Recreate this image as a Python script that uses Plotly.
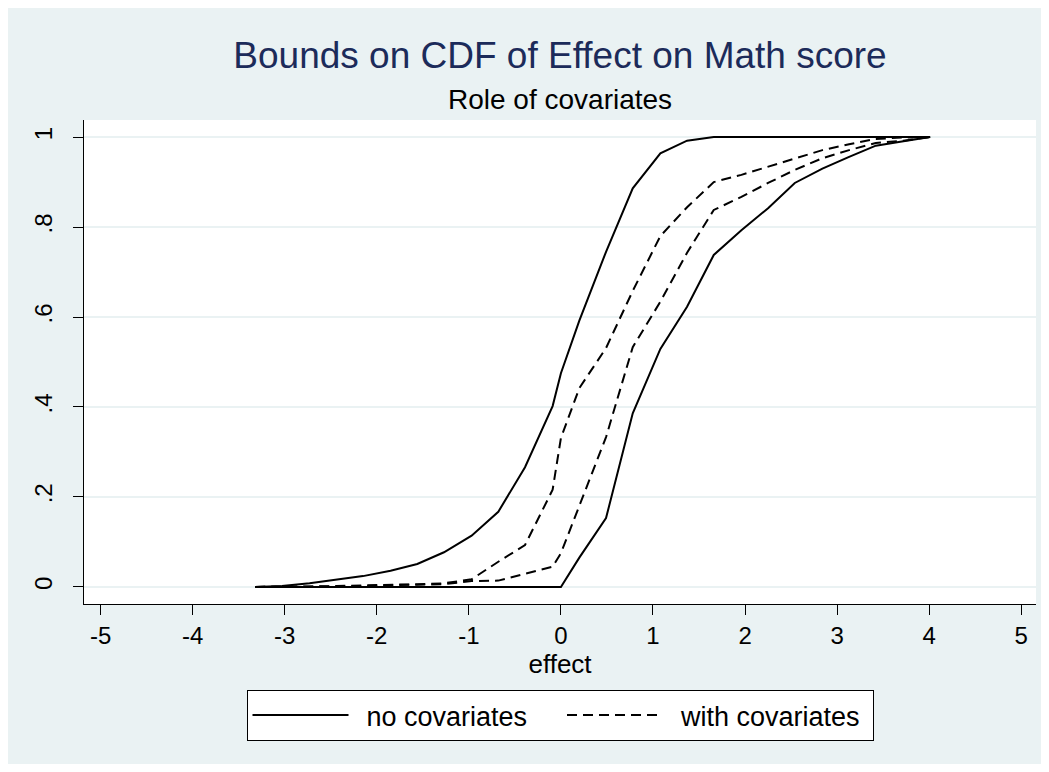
import plotly.graph_objects as go

# ---- data ----
effect = [-3.32, -3.03, -2.73, -2.44, -2.15, -1.85, -1.56, -1.27, -0.97, -0.68, -0.39, -0.09, 0.00,
          0.20, 0.49, 0.78, 1.08, 1.37, 1.66, 1.96, 2.25, 2.54, 2.84, 3.13, 3.42, 3.72, 4.01]

upper_nocov = [0.000, 0.002, 0.008, 0.016, 0.024, 0.036, 0.051, 0.077, 0.114, 0.167, 0.266, 0.402, 0.475,
               0.592, 0.745, 0.886, 0.964, 0.992, 1.000, 1.000, 1.000, 1.000, 1.000, 1.000, 1.000, 1.000, 1.000]
lower_nocov = [0.000, 0.000, 0.000, 0.000, 0.000, 0.000, 0.000, 0.000, 0.000, 0.000, 0.000, 0.000, 0.000,
               0.065, 0.153, 0.386, 0.529, 0.623, 0.738, 0.793, 0.842, 0.898, 0.930, 0.956, 0.981, 0.991, 1.000]
upper_cov = [0.000, 0.000, 0.001, 0.002, 0.003, 0.005, 0.006, 0.008, 0.017, 0.056, 0.093, 0.216, 0.331,
             0.442, 0.531, 0.658, 0.780, 0.844, 0.900, 0.916, 0.934, 0.952, 0.971, 0.984, 0.996, 0.999, 1.000]
lower_cov = [0.000, 0.000, 0.000, 0.001, 0.002, 0.004, 0.005, 0.006, 0.013, 0.014, 0.030, 0.045, 0.075,
             0.180, 0.333, 0.533, 0.634, 0.743, 0.838, 0.867, 0.898, 0.927, 0.953, 0.971, 0.987, 0.992, 1.000]

x_ticks = [-5, -4, -3, -2, -1, 0, 1, 2, 3, 4, 5]
x_tick_text = ["-5", "-4", "-3", "-2", "-1", "0", "1", "2", "3", "4", "5"]
y_ticks = [0, 0.2, 0.4, 0.6, 0.8, 1.0]
y_tick_text = ["0", ".2", ".4", ".6", ".8", "1"]

FONT = "Liberation Sans, Arial, sans-serif"
BG = "#EAF2F3"

fig = go.Figure()
solid = dict(color="black", width=2)
dashed = dict(color="black", width=2, dash="10px,6px")

NB = "\u00a0"
TH = "\u2009"
fig.add_trace(go.Scatter(x=effect, y=upper_nocov, mode="lines", line=solid,
                         name=NB + TH + "no covariates" + NB * 4, legendgroup="a", showlegend=True))
fig.add_trace(go.Scatter(x=effect, y=lower_nocov, mode="lines", line=solid,
                         name="no covariates", legendgroup="a", showlegend=False))
fig.add_trace(go.Scatter(x=effect, y=upper_cov, mode="lines", line=dashed,
                         name=NB + TH + "with covariates" + NB, legendgroup="b", showlegend=True))
fig.add_trace(go.Scatter(x=effect, y=lower_cov, mode="lines", line=dashed,
                         name="with covariates", legendgroup="b", showlegend=False))

W, H = 1033, 756
L, R, T, B = 76, 5, 112, 160
pw, ph = W - L - R, H - T - B

fig.update_layout(
    width=W, height=H,
    margin=dict(l=L, r=R, t=T, b=B),
    paper_bgcolor=BG, plot_bgcolor="white",
    font=dict(family=FONT, color="black", size=24),
    title=dict(text="Bounds on CDF of Effect on Math score", x=0.5, xref="paper",
               xanchor="center", y=1 - 47 / H, yanchor="middle",
               font=dict(family=FONT, size=37, color="#1c2b5a")),
    annotations=[dict(text="Role of covariates", xref="paper", yref="paper",
                      x=0.5, y=1 + (T - 92) / ph, xanchor="center", yanchor="middle",
                      showarrow=False, font=dict(family=FONT, size=28, color="black"))],
    legend=dict(orientation="h", x=0.5, xanchor="center", y=-86 / ph, yanchor="top",
                bgcolor="white", bordercolor="black", borderwidth=1,
                font=dict(family=FONT, size=27, color="black"),
                itemwidth=96, traceorder="normal"),
)

fig.update_xaxes(range=[-5.18, 5.16], tickmode="array", tickvals=x_ticks, ticktext=x_tick_text,
                 showgrid=False, zeroline=False, showline=True, linecolor="black", linewidth=1,
                 ticks="outside", ticklen=10, tickcolor="black", tickwidth=1,
                 tickfont=dict(family=FONT, size=24),
                 title=dict(text="effect", font=dict(family=FONT, size=26), standoff=6))
fig.update_yaxes(range=[-0.038, 1.038], tickmode="array", tickvals=y_ticks, ticktext=y_tick_text,
                 showgrid=True, gridcolor=BG, gridwidth=1.5, zeroline=False,
                 showline=True, linecolor="black", linewidth=1,
                 ticks="outside", ticklen=10, tickcolor="black", tickwidth=1,
                 tickangle=-90, ticklabelstandoff=11, tickfont=dict(family=FONT, size=24))

fig.write_html("out.html")
